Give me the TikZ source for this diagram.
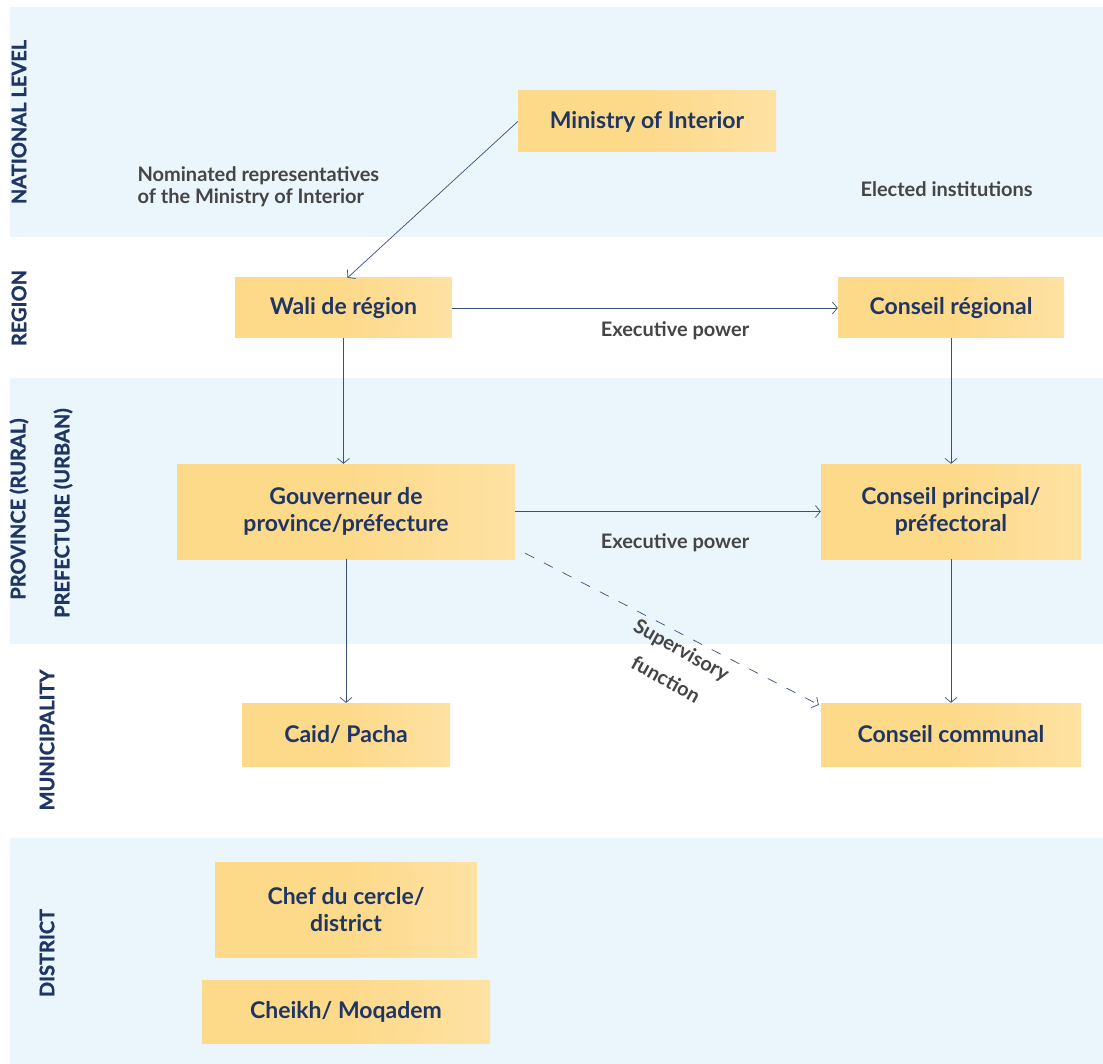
\documentclass[tikz,border=0pt]{standalone}
\usepackage{fontspec}
\setmainfont{Lato}
\newfontfamily\heavyfont{Lato}[BoldFeatures={FakeBold=1.3}]
\usetikzlibrary{arrows.meta,calc}
\definecolor{bandblue}{HTML}{EAF5FC}
\definecolor{boxfill}{HTML}{FDD98A}
\definecolor{boxlight}{HTML}{FEE2A3}
\definecolor{navy}{HTML}{1F3564}
\definecolor{greytext}{HTML}{454545}
\definecolor{linecol}{HTML}{3B4F7A}
\tikzset{
  band/.style={fill=bandblue,draw=none},
  orgbox/.style={shape=rectangle,left color=boxfill,right color=boxlight,middle color=boxfill,draw=none,text=navy,font=\fontsize{23}{27}\selectfont\bfseries,align=center,inner sep=0pt},
  bandlabel/.style={rotate=90,text=navy,font=\heavyfont\fontsize{20}{22}\selectfont\bfseries},
  note/.style={text=greytext,font=\fontsize{20}{22}\selectfont\bfseries},
  conn/.style={draw=linecol,line width=0.7pt,-{Straight Barb[length=5pt,width=12pt]}},
}
\begin{document}
\begin{tikzpicture}[x=1pt,y=-1pt]
\useasboundingbox (0,0) rectangle (1103,1064);
\fill[white] (0,0) rectangle (1103,1064);
% bands
\path[band] (10,7) rectangle (1103,237);
\path[band] (10,378) rectangle (1103,644);
\path[band] (10,838) rectangle (1103,1064);
% band labels
\node[bandlabel] (lnat) at (19,122) {NATIONAL LEVEL};
\node[bandlabel] (lreg) at (19,308) {REGION};
\node[bandlabel] (lprov) at (19,509) {PROVINCE (RURAL)};
\node[bandlabel] (lpref) at (63,513) {PREFECTURE (URBAN)};
\node[bandlabel] (lmun) at (47,740) {MUNICIPALITY};
\node[bandlabel] (ldist) at (47,953) {DISTRICT};
% boxes
\node[orgbox,minimum width=258pt,minimum height=61pt] (min) at (647,121.5) {Ministry of Interior};
\node[orgbox,minimum width=217pt,minimum height=60pt] (wali) at (343.5,308) {Wali de région};
\node[orgbox,minimum width=226pt,minimum height=60pt] (creg) at (951,308) {Conseil régional};
\node[orgbox,minimum width=338pt,minimum height=95pt] (gov) at (346,511.5) {Gouverneur de\\province/préfecture};
\node[orgbox,minimum width=260pt,minimum height=95pt] (cprin) at (951,511.5) {Conseil principal/\\préfectoral};
\node[orgbox,minimum width=208pt,minimum height=63pt] (caid) at (346,734.5) {Caid/ Pacha};
\node[orgbox,minimum width=260pt,minimum height=63pt] (ccom) at (951,734.5) {Conseil communal};
\node[orgbox,minimum width=262pt,minimum height=95pt] (chef) at (346,909.5) {Chef du cercle/\\district};
\node[orgbox,minimum width=288pt,minimum height=63pt] (cheikh) at (346,1011.5) {Cheikh/ Moqadem};
% notes
\node[note,anchor=west,align=left] (nomin) at (134,187) {Nominated representatives\\of the Ministry of Interior};
\node[note,anchor=west] (elected) at (857,189) {Elected institutions};
\node[note] (exec1) at (675,331) {Executive power};
\node[note] (exec2) at (675,543) {Executive power};
\node[note,rotate=-29,inner sep=0pt] (sup1) at (681,651) {Supervisory};
\node[note,rotate=-29,inner sep=0pt] (sup2) at (666,679) {function};
% connectors
\draw[conn] (min.west) -- ([xshift=4pt]wali.north);
\draw[conn] (wali.east) -- (creg.west);
\draw[conn] (wali.south) -- (wali.south |- gov.north);
\draw[conn] (creg.south) -- (creg.south |- cprin.north);
\draw[conn] (gov.east) -- (cprin.west);
\draw[conn] (gov.south) -- (caid.north);
\draw[conn] (cprin.south) -- (ccom.north);
\draw[conn,dashed,dash pattern=on 10pt off 11pt] ([xshift=10pt,yshift=6pt]gov.south east) -- ([xshift=-2pt,yshift=-2pt]ccom.north west);
\end{tikzpicture}
\end{document}
